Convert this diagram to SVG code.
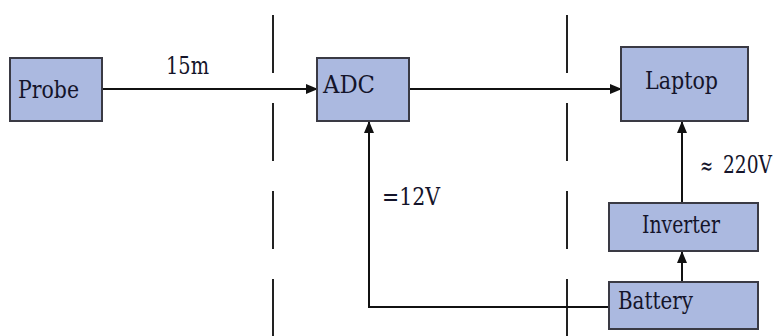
<svg xmlns="http://www.w3.org/2000/svg" width="779" height="336" viewBox="0 0 779 336">
<style>
.box{fill:#abb9e0;stroke:#3a3a44;stroke-width:2}
.t{font-family:'DejaVu Serif Condensed','DejaVu Serif',serif;font-size:24px;fill:#14142a}
.ln{fill:none;stroke:#111;stroke-width:2}
.dash{stroke:#222;stroke-width:2;stroke-dasharray:58 30}
</style>
<defs>
<marker id="ah" markerWidth="12" markerHeight="10" refX="11" refY="5" orient="auto" markerUnits="userSpaceOnUse">
<path d="M0,0 L12,5 L0,10 Z" fill="#111"/>
</marker>
</defs>
<rect width="779" height="336" fill="#fff"/>
<g id="dividers">
<line class="dash" x1="273" y1="15" x2="273" y2="336"/>
<line class="dash" x1="567" y1="15" x2="567" y2="336"/>
</g>
<g id="connectors">
<line class="ln" x1="102" y1="89" x2="317" y2="89" marker-end="url(#ah)"/>
<line class="ln" x1="409" y1="89" x2="621" y2="89" marker-end="url(#ah)"/>
<polyline class="ln" points="609,307 369,307 369,122" marker-end="url(#ah)"/>
<line class="ln" x1="682" y1="282" x2="682" y2="252" marker-end="url(#ah)"/>
<line class="ln" x1="682" y1="203" x2="682" y2="122" marker-end="url(#ah)"/>
<text class="t" x="166" y="74" textLength="43" lengthAdjust="spacingAndGlyphs">15m</text>
<text class="t" x="382" y="205" textLength="58" lengthAdjust="spacingAndGlyphs">=12V</text>
<text class="t" x="700" y="174" fill="#666" font-size="28" textLength="13" lengthAdjust="spacingAndGlyphs">≈</text>
<text class="t" x="723" y="173" textLength="49" lengthAdjust="spacingAndGlyphs">220V</text>
</g>
<g id="probe">
<rect class="box" x="10" y="58" width="92" height="63"/>
<text class="t" x="18" y="98" textLength="61" lengthAdjust="spacingAndGlyphs">Probe</text>
</g>
<g id="adc">
<rect class="box" x="317" y="58" width="92" height="63"/>
<text class="t" x="323" y="93" textLength="52" lengthAdjust="spacingAndGlyphs">ADC</text>
</g>
<g id="laptop">
<rect class="box" x="621" y="47" width="127" height="74"/>
<text class="t" x="645" y="89" textLength="73" lengthAdjust="spacingAndGlyphs">Laptop</text>
</g>
<g id="inverter">
<rect class="box" x="609" y="203" width="149" height="48"/>
<text class="t" x="642" y="233" textLength="78" lengthAdjust="spacingAndGlyphs">Inverter</text>
</g>
<g id="battery">
<rect class="box" x="609" y="282" width="149" height="47"/>
<text class="t" x="618" y="309" textLength="75" lengthAdjust="spacingAndGlyphs">Battery</text>
</g>
</svg>
